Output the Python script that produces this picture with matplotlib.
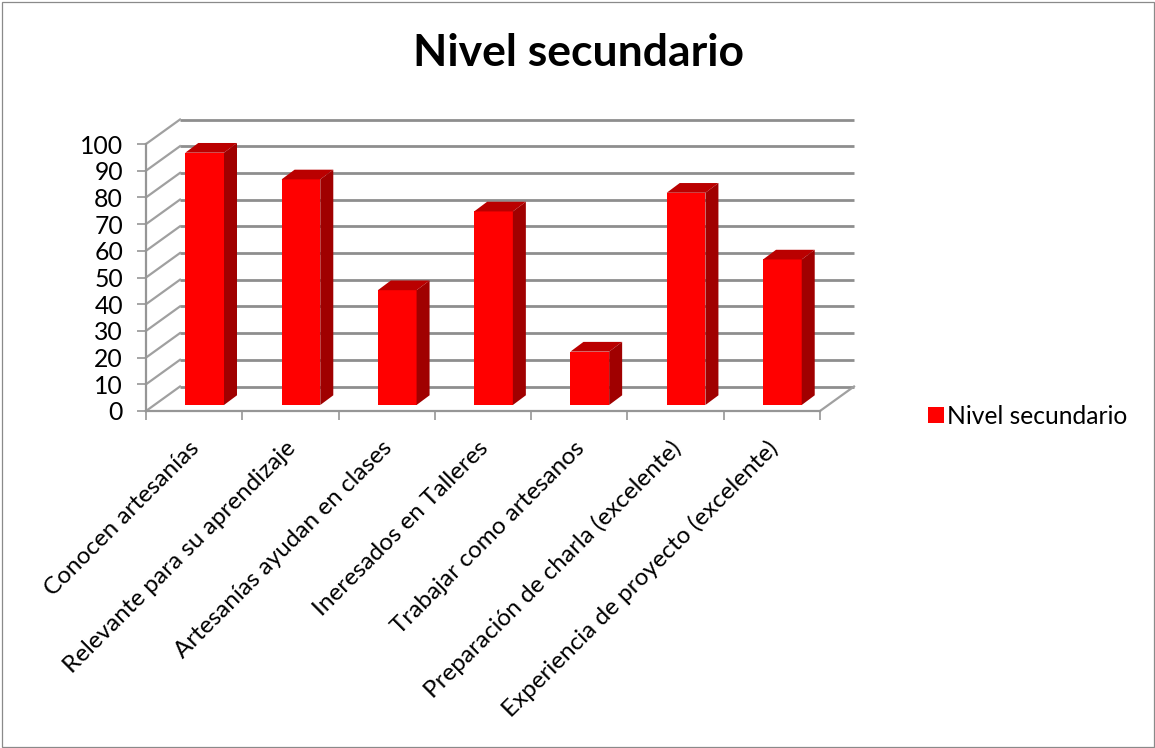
import matplotlib
matplotlib.use("Agg")
import matplotlib.pyplot as plt
from matplotlib.patches import Polygon, Rectangle, Patch

categories = ["Conocen artesanías", "Relevante para su aprendizaje", "Artesanías ayudan en clases",
              "Ineresados en Talleres", "Trabajar como artesanos",
              "Preparación de charla (excelente)", "Experiencia de proyecto (excelente)"]
values = [94.5, 84.5, 43, 72.5, 20, 79.5, 54.5]
yticks = list(range(0, 101, 10))
title = "Nivel secundario"
series = "Nivel secundario"

W, H = 1155, 748
plt.rcParams["font.family"] = ["Lato", "DejaVu Sans"]
fig = plt.figure(figsize=(W / 100, H / 100), dpi=100)
fig.add_artist(Rectangle((1.5 / W, 1.5 / H), (W - 3) / W, (H - 3) / H, transform=fig.transFigure,
                         fill=False, ec="#8a8a8a", lw=0.9))

# axes: front plane of 3D box spans px x 146..820, y 411..144
L, R, B, T = 146, 820, 411, 144
ax = fig.add_axes([L / W, 1 - B / H, (R - L) / W, (B - T) / H])
ax.set_xlim(0, len(categories))
ax.set_ylim(0, 100)
ax.patch.set_alpha(0)
for s in ["top", "right"]:
    ax.spines[s].set_visible(False)
for s in ["left", "bottom"]:
    ax.spines[s].set_color("#969696")
    ax.spines[s].set_linewidth(1.6)

xu = (R - L) / len(categories)
yu = (B - T) / 100
dx, dy = 34 / xu, 24.5 / yu        # box depth
bdx, bdy = 13 / xu, 9.7 / yu       # bar depth
base = 6 / yu                      # bar base lift
bw = 38.7 / xu
bl = 39.3 / xu
GRID = dict(color="#8e8e8e", lw=2.0, clip_on=False, zorder=1, solid_capstyle="butt")
SIDE = dict(color="#a0a0a0", lw=1.6, clip_on=False, zorder=1)
n = len(categories)
for v in yticks:
    ax.plot([dx, n + dx], [v + dy, v + dy], **GRID)
    ax.plot([0, dx], [v, v + dy], **SIDE)
ax.plot([n, n + dx], [0, dy], **SIDE)

for i, v in enumerate(values):
    x0 = i + bl
    ax.bar(x0, v, width=bw, bottom=base, align="edge", color="#ff0000", zorder=3, clip_on=False)
    top = base + v
    ax.add_patch(Polygon([(x0, top), (x0 + bw, top), (x0 + bw + bdx, top + bdy), (x0 + bdx, top + bdy)],
                         fc="#ba0000", ec="none", zorder=3, clip_on=False))
    ax.add_patch(Polygon([(x0 + bw, base), (x0 + bw + bdx, base + bdy), (x0 + bw + bdx, top + bdy), (x0 + bw, top)],
                         fc="#a00000", ec="none", zorder=3, clip_on=False))

ax.set_yticks(yticks)
ax.set_yticklabels([str(v) for v in yticks])
ax.set_xticks(range(n + 1))
ax.set_xticklabels([])
ax.tick_params(axis="both", color="#969696", width=1.2, length=6.5, labelsize=17.8, labelcolor="#000000")
ax.tick_params(axis="y", pad=10)

# rotated category labels, right-anchored under each slot
for i, c in enumerate(categories):
    ax.annotate(c, xy=(i + 0.5, 0), xytext=(-4, -19), textcoords="offset points",
                rotation=45, rotation_mode="anchor", ha="right", va="top", fontsize=17.5, color="#000000")

fig.text(579 / W, 1 - 53 / H, title, ha="center", va="center", fontsize=32, fontweight="bold", color="#000000")

leg = fig.legend(handles=[Patch(fc="#ff0000", ec="none", label=series)], loc="center left",
                 bbox_to_anchor=(921 / W, 1 - 416 / H), frameon=False, fontsize=17.7,
                 handlelength=0.62, handleheight=0.62, handletextpad=0.15, borderpad=0.3, borderaxespad=0)

fig.savefig("out.png", dpi=100)
